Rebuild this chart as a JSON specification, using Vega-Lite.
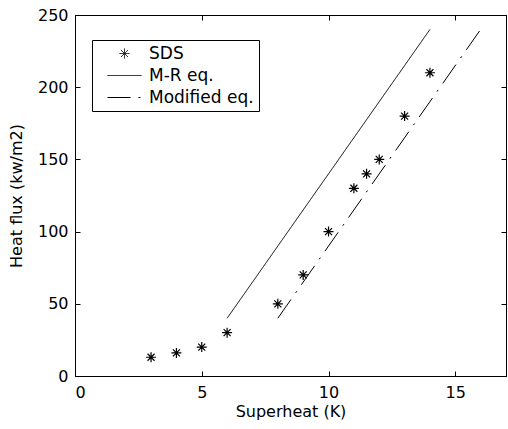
{
  "$schema": "https://vega.github.io/schema/vega-lite/v6.json",
  "width": 431,
  "height": 361,
  "autosize": {"type": "none"},
  "padding": {"left": 75, "top": 15, "right": 2, "bottom": 53},
  "background": "white",
  "config": {
    "font": "DejaVu Sans",
    "view": {"stroke": "black", "strokeWidth": 1},
    "axis": {
      "grid": false,
      "domainColor": "black",
      "domainWidth": 1,
      "tickColor": "black",
      "tickWidth": 1,
      "tickSize": -5,
      "labelColor": "black",
      "titleColor": "black",
      "labelFont": "DejaVu Sans",
      "titleFont": "DejaVu Sans",
      "labelFontSize": 16,
      "titleFontSize": 16,
      "titleFontWeight": "normal",
      "labelPadding": 12
    },
    "legend": {
      "orient": "none",
      "legendX": 17,
      "legendY": 25,
      "strokeColor": "black",
      "fillColor": "white",
      "padding": 5,
      "rowPadding": 4,
      "symbolSize": 100,
      "symbolStrokeColor": "black",
      "symbolStrokeWidth": 1,
      "symbolFillColor": "transparent",
      "symbolOffset": 19,
      "labelOffset": 16,
      "labelFont": "DejaVu Sans",
      "labelFontSize": 17,
      "labelColor": "black"
    }
  },
  "data": {
    "values": [
      {"series": "SDS", "x": 3, "y": 13},
      {"series": "SDS", "x": 4, "y": 16},
      {"series": "SDS", "x": 5, "y": 20},
      {"series": "SDS", "x": 6, "y": 30},
      {"series": "SDS", "x": 8, "y": 50},
      {"series": "SDS", "x": 9, "y": 70},
      {"series": "SDS", "x": 10, "y": 100},
      {"series": "SDS", "x": 11, "y": 130},
      {"series": "SDS", "x": 11.5, "y": 140},
      {"series": "SDS", "x": 12, "y": 150},
      {"series": "SDS", "x": 13, "y": 180},
      {"series": "SDS", "x": 14, "y": 210},
      {"series": "M-R eq.", "x": 6, "y": 40},
      {"series": "M-R eq.", "x": 14, "y": 240},
      {"series": "Modified eq.", "x": 8, "y": 40},
      {"series": "Modified eq.", "x": 16, "y": 240}
    ]
  },
  "layer": [
    {
      "transform": [{"filter": "datum.series !== 'SDS'"}],
      "mark": {"type": "line", "color": "black", "strokeWidth": 1},
      "encoding": {
        "x": {
          "field": "x", "type": "quantitative",
          "scale": {"domain": [0, 17], "nice": false},
          "axis": {"orient": "bottom", "values": [0, 5, 10, 15], "title": "Superheat (K)", "labelPadding": 13, "titlePadding": 3}
        },
        "y": {
          "field": "y", "type": "quantitative",
          "scale": {"domain": [0, 250], "nice": false},
          "axis": {"orient": "left", "values": [0, 50, 100, 150, 200, 250], "title": "Heat flux (kw/m2)", "titlePadding": 13}
        },
        "strokeDash": {
          "field": "series", "type": "nominal",
          "scale": {"domain": ["SDS", "M-R eq.", "Modified eq."], "range": [[1, 0], [1, 0], [23, 8, 2, 8]]},
          "legend": {"title": null, "labelExpr": "datum.label + '\u00a0\u00a0'"}
        }
      }
    },
    {
      "transform": [{"filter": "datum.series === 'SDS'"}],
      "mark": {"type": "point", "filled": false, "color": "black", "strokeWidth": 1.2, "size": 100, "opacity": 1},
      "encoding": {
        "x": {
          "field": "x", "type": "quantitative",
          "scale": {"domain": [0, 17], "nice": false},
          "axis": {"orient": "top", "values": [0, 5, 10, 15], "labels": false, "title": null}
        },
        "y": {
          "field": "y", "type": "quantitative",
          "scale": {"domain": [0, 250], "nice": false},
          "axis": {"orient": "right", "values": [0, 50, 100, 150, 200, 250], "labels": false, "title": null}
        },
        "shape": {
          "field": "series", "type": "nominal",
          "scale": {"domain": ["SDS", "M-R eq.", "Modified eq."], "range": ["M-1,0L1,0M0,-1L0,1M-0.7,-0.7L0.7,0.7M-0.7,0.7L0.7,-0.7", "M-3.4,0L3.4,0", "M-3.4,0L3.4,0"]},
          "legend": {"title": null, "labelExpr": "datum.label + '\u00a0\u00a0'"}
        }
      }
    }
  ],
  "resolve": {"axis": {"x": "independent", "y": "independent"}}
}
